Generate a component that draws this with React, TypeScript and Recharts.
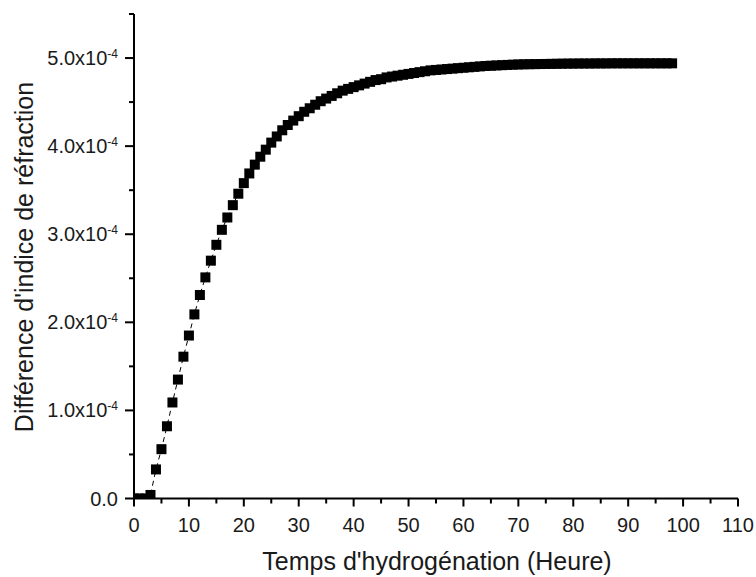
import React from 'react';
import { LineChart, Line, XAxis, YAxis, Label } from 'recharts';

// Hydrogenation time (hours)
const hours = [
  0, 1, 2, 3, 4, 5, 6, 7, 8, 9,
  10, 11, 12, 13, 14, 15, 16, 17, 18, 19,
  20, 21, 22, 23, 24, 25, 26, 27, 28, 29,
  30, 31, 32, 33, 34, 35, 36, 37, 38, 39,
  40, 41, 42, 43, 44, 45, 46, 47, 48, 49,
  50, 51, 52, 53, 54, 55, 56, 57, 58, 59,
  60, 61, 62, 63, 64, 65, 66, 67, 68, 69,
  70, 71, 72, 73, 74, 75, 76, 77, 78, 79,
  80, 81, 82, 83, 84, 85, 86, 87, 88, 89,
  90, 91, 92, 93, 94, 95, 96, 97, 98,
];

// Refractive index difference, in units of 1e-4
const deltaN = [
  0, 0, 0, 0.04, 0.33, 0.56, 0.82, 1.09, 1.35, 1.61,
  1.85, 2.09, 2.31, 2.51, 2.70, 2.88, 3.05, 3.19, 3.33, 3.46,
  3.58, 3.69, 3.79, 3.88, 3.96, 4.04, 4.11, 4.18, 4.24, 4.29,
  4.34, 4.39, 4.43, 4.47, 4.51, 4.54, 4.57, 4.60, 4.63, 4.65,
  4.67, 4.69, 4.71, 4.73, 4.75, 4.76, 4.78, 4.79, 4.80, 4.81,
  4.82, 4.83, 4.84, 4.85, 4.86, 4.865, 4.87, 4.875, 4.88, 4.885,
  4.89, 4.895, 4.90, 4.905, 4.91, 4.913, 4.916, 4.919, 4.922, 4.925,
  4.927, 4.929, 4.93, 4.931, 4.932, 4.933, 4.934, 4.935, 4.936, 4.937,
  4.937, 4.938, 4.938, 4.938, 4.939, 4.939, 4.939, 4.94, 4.94, 4.94,
  4.94, 4.94, 4.94, 4.94, 4.94, 4.94, 4.94, 4.94, 4.94,
];

const xTicks = [0, 5, 10, 15, 20, 25, 30, 35, 40, 45, 50, 55, 60, 65, 70, 75, 80, 85, 90, 95, 100, 105, 110];
const xMajorLabels = ['0', '10', '20', '30', '40', '50', '60', '70', '80', '90', '100', '110'];
const yTicks = [0, 0.5, 1, 1.5, 2, 2.5, 3, 3.5, 4, 4.5, 5, 5.5];
const yMajorLabels = ['0.0', '1.0', '2.0', '3.0', '4.0', '5.0'];

const xTitle = "Temps d'hydrogénation (Heure)";
const yTitle = "Différence d'indice de réfraction";

const rows = hours.map((t, i) => ({ t, v: deltaN[i] }));

const FONT = '"Liberation Sans", Arial, sans-serif';

const XTick = (props: any) => {
  const { x, y, payload } = props;
  const v = payload.value;
  const major = v % 10 === 0;
  return (
    <g>
      <rect x={x - 1} y={y} width={2} height={major ? 8 : 5} fill="#000" />
      {major && (
        <text x={x} y={y + 33} textAnchor="middle" fontFamily={FONT} fontSize={20} fill="#1a1a1a">
          {xMajorLabels[v / 10]}
        </text>
      )}
    </g>
  );
};

const YTick = (props: any) => {
  const { x, y, payload } = props;
  const v = payload.value;
  const major = Number.isInteger(v);
  const len = major ? 9 : 5;
  return (
    <g>
      <rect x={x - len} y={y - 1} width={len} height={2} fill="#000" />
      {major && v === 0 && (
        <text x={x - 16} y={y + 7} textAnchor="end" fontFamily={FONT} fontSize={20} fill="#1a1a1a">
          {yMajorLabels[0]}
        </text>
      )}
      {major && v !== 0 && (
        <text x={x - 16} y={y + 7} textAnchor="end" fontFamily={FONT} fontSize={20} fill="#1a1a1a">
          <tspan>{yMajorLabels[v] + 'x10'}</tspan>
          <tspan dy={-7} fontSize={12}>-4</tspan>
        </text>
      )}
    </g>
  );
};

const SquareDot = (props: any) => {
  const { cx, cy, index } = props;
  if (cx == null || cy == null) return <g key={`d${index}`} />;
  return <rect key={`d${index}`} x={cx - 5} y={cy - 5} width={10} height={10} fill="#000" />;
};

export default function App() {
  return (
    <div style={{ position: 'absolute', left: 0, top: 0, background: '#fff' }}>
      <LineChart width={756} height={577} data={rows} margin={{ top: 14, right: 18, left: 0, bottom: 0 }}>
        <XAxis
          dataKey="t"
          type="number"
          domain={[0, 110]}
          ticks={xTicks}
          interval={0}
          allowDataOverflow
          height={78.5}
          tickSize={0}
          tickMargin={0}
          tickLine={false}
          tick={<XTick />}
          axisLine={{ stroke: '#000', strokeWidth: 2 }}
        >
          <Label
            content={() => (
              <text x={437} y={570} textAnchor="middle" fontFamily={FONT} fontSize={25} fill="#1a1a1a">
                {xTitle}
              </text>
            )}
          />
        </XAxis>
        <YAxis
          type="number"
          domain={[0, 5.5]}
          ticks={yTicks}
          interval={0}
          allowDataOverflow
          width={134}
          tickSize={0}
          tickMargin={0}
          tickLine={false}
          tick={<YTick />}
          axisLine={{ stroke: '#000', strokeWidth: 2 }}
        >
          <Label
            content={() => (
              <text
                x={33}
                y={257}
                textAnchor="middle"
                fontFamily={FONT}
                fontSize={25}
                fill="#1a1a1a"
                transform="rotate(-90, 33, 257)"
              >
                {yTitle}
              </text>
            )}
          />
        </YAxis>
        <Line
          dataKey="v"
          stroke="#000"
          strokeWidth={1}
          strokeDasharray="5 4"
          dot={<SquareDot />}
          activeDot={false}
          isAnimationActive={false}
        />
      </LineChart>
    </div>
  );
}
